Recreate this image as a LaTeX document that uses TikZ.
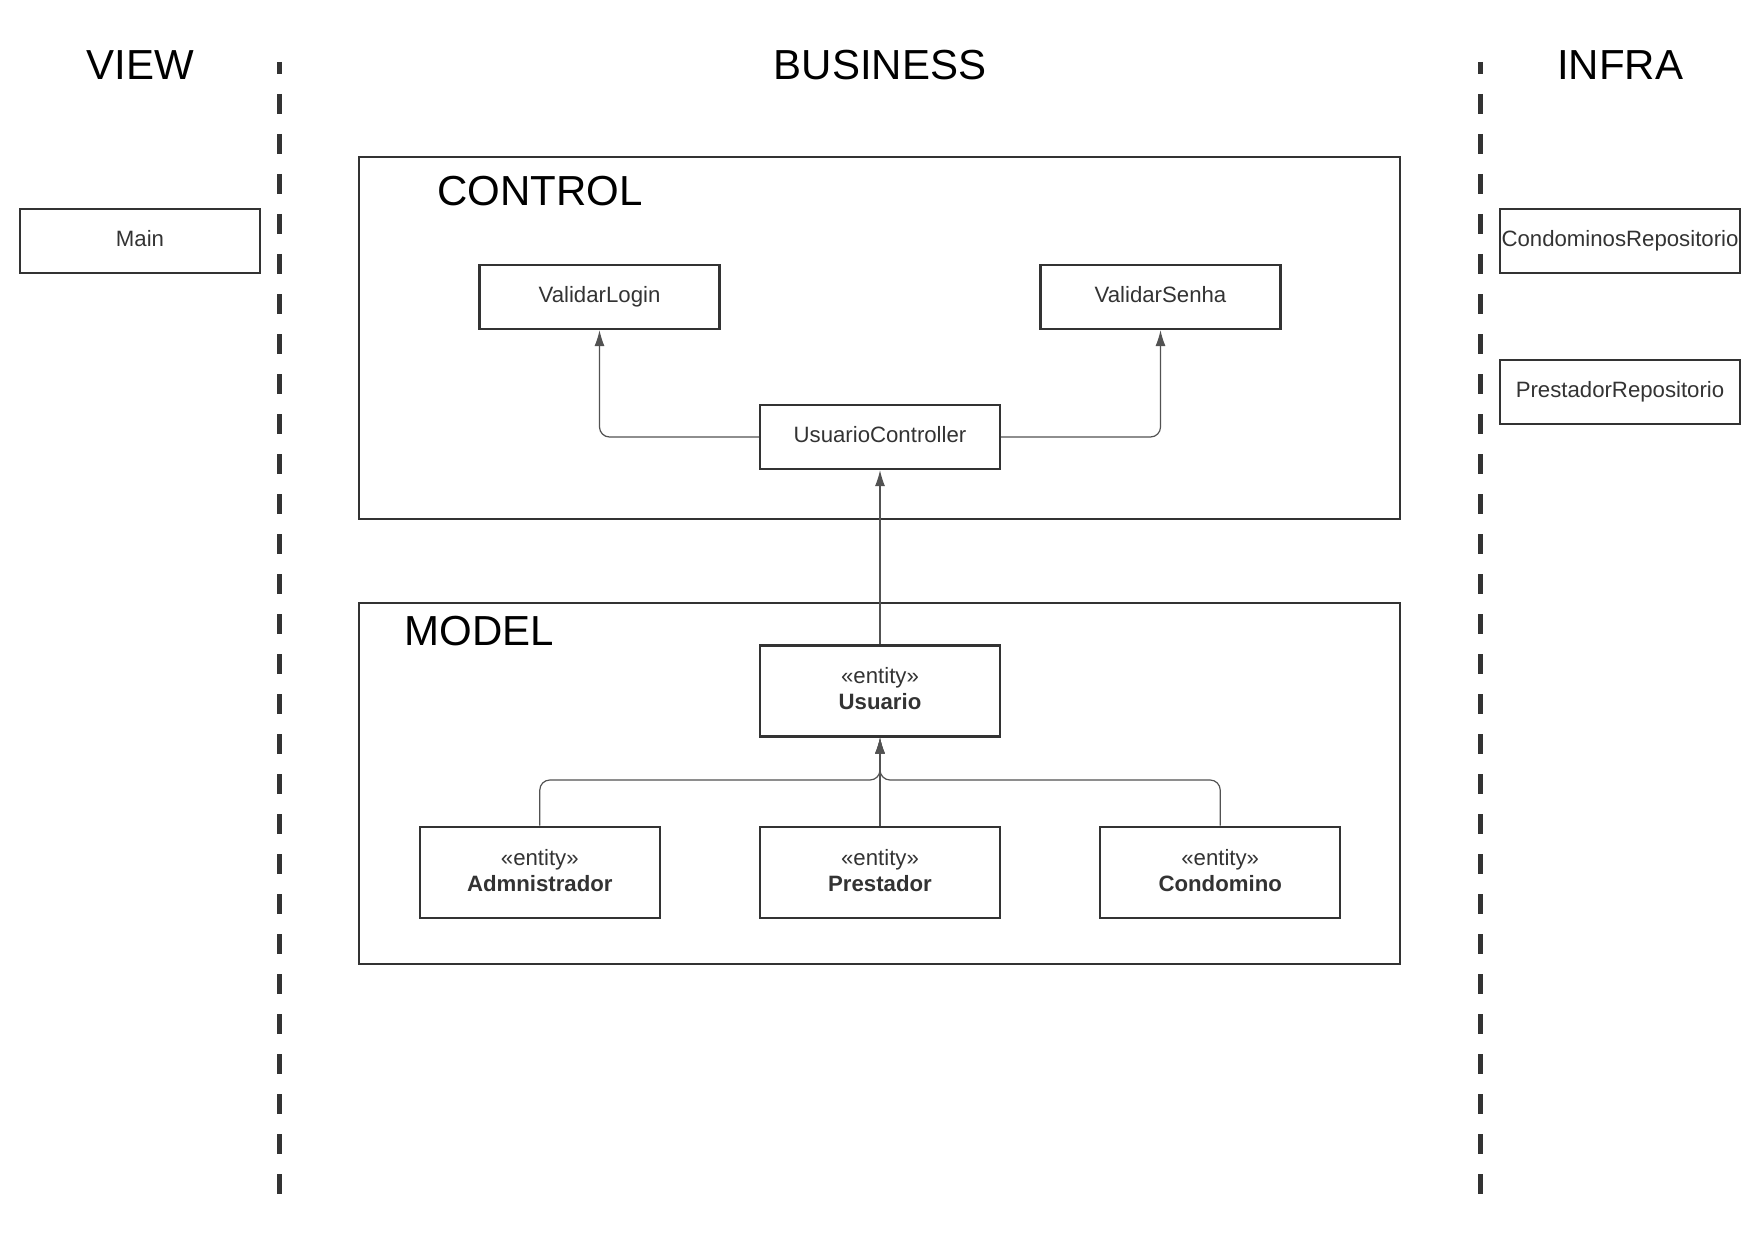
\documentclass[tikz,border=0pt]{standalone}
\usepackage{fontspec}
\setmainfont{Liberation Sans}
\usetikzlibrary{positioning,arrows.meta}
\definecolor{ln}{HTML}{333333}
\tikzset{
  box/.style={draw=ln, line width=1.1pt, minimum width=120pt, minimum height=32pt,
    inner sep=0pt, text=ln, align=center, font=\fontsize{11.1}{13}\selectfont},
  cls/.style={box, text height=8pt, text depth=2.8pt},
  ent/.style={box, minimum height=45.5pt, text depth=2.2pt},
  pkg/.style={draw=ln, line width=1.1pt},
  ttl/.style={font=\fontsize{21}{25}\selectfont},
  lane/.style={draw=ln, line width=2.5pt, dash pattern=on 10pt off 10pt, dash phase=4pt},
  conn/.style={draw=ln!85, line width=0.6pt, rounded corners=5pt, -{Latex[length=8pt,width=5pt]}}
}

\begin{document}
\begin{tikzpicture}[x=0.5pt,y=-0.5pt]
    \useasboundingbox (0,0) rectangle (1760,1241);
    \node[ttl] (view) at (140,65) {VIEW};
    \node[ttl] (business) at (880,65) {BUSINESS};
    \node[ttl] (infra) at (1620,65) {INFRA};
    \draw[lane] (279.5,62) -- (279.5,1201);
    \draw[lane] (1480.5,62) -- (1480.5,1201);
    \draw[pkg] (359,157) rectangle (1400,519);
    \draw[pkg] (359,603) rectangle (1400,964);
    \node[ttl, anchor=west, inner sep=0pt] (control) at (437,191) {CONTROL};
    \node[ttl, anchor=west, inner sep=0pt] (model) at (404,631) {MODEL};
    \node[cls] (main) at (140,241) {Main};
    \node[cls] (ctrl) at (880,437) {UsuarioController};
    \node[cls] (vlogin) at (599.5,297) {ValidarLogin};
    \node[cls] (vsenha) at (1160.5,297) {ValidarSenha};
    \node[ent] (usu) at (880,691) {«entity»\\\textbf{Usuario}};
    \node[ent, below=44pt of usu] (pre) {«entity»\\\textbf{Prestador}};
    \node[ent, left=49pt of pre] (adm) {«entity»\\\textbf{Admnistrador}};
    \node[ent, right=49pt of pre] (cond) {«entity»\\\textbf{Condomino}};
    \node[cls] (crepo) at (1620,241) {CondominosRepositorio};
    \node[cls] (prepo) at (1620,392) {PrestadorRepositorio};
    \coordinate (bend) at (880,780);
    \draw[conn] (ctrl.west) -| (vlogin.south);
    \draw[conn] (ctrl.east) -| (vsenha.south);
    \draw[conn] (usu.north) -- (ctrl.south);
    \draw[conn] (adm.north) -- (adm.north |- bend) -- (bend) -- (usu.south);
    \draw[conn] (cond.north) -- (cond.north |- bend) -- (bend) -- (usu.south);
    \draw[conn] (pre.north) -- (usu.south);
\end{tikzpicture}
\end{document}
